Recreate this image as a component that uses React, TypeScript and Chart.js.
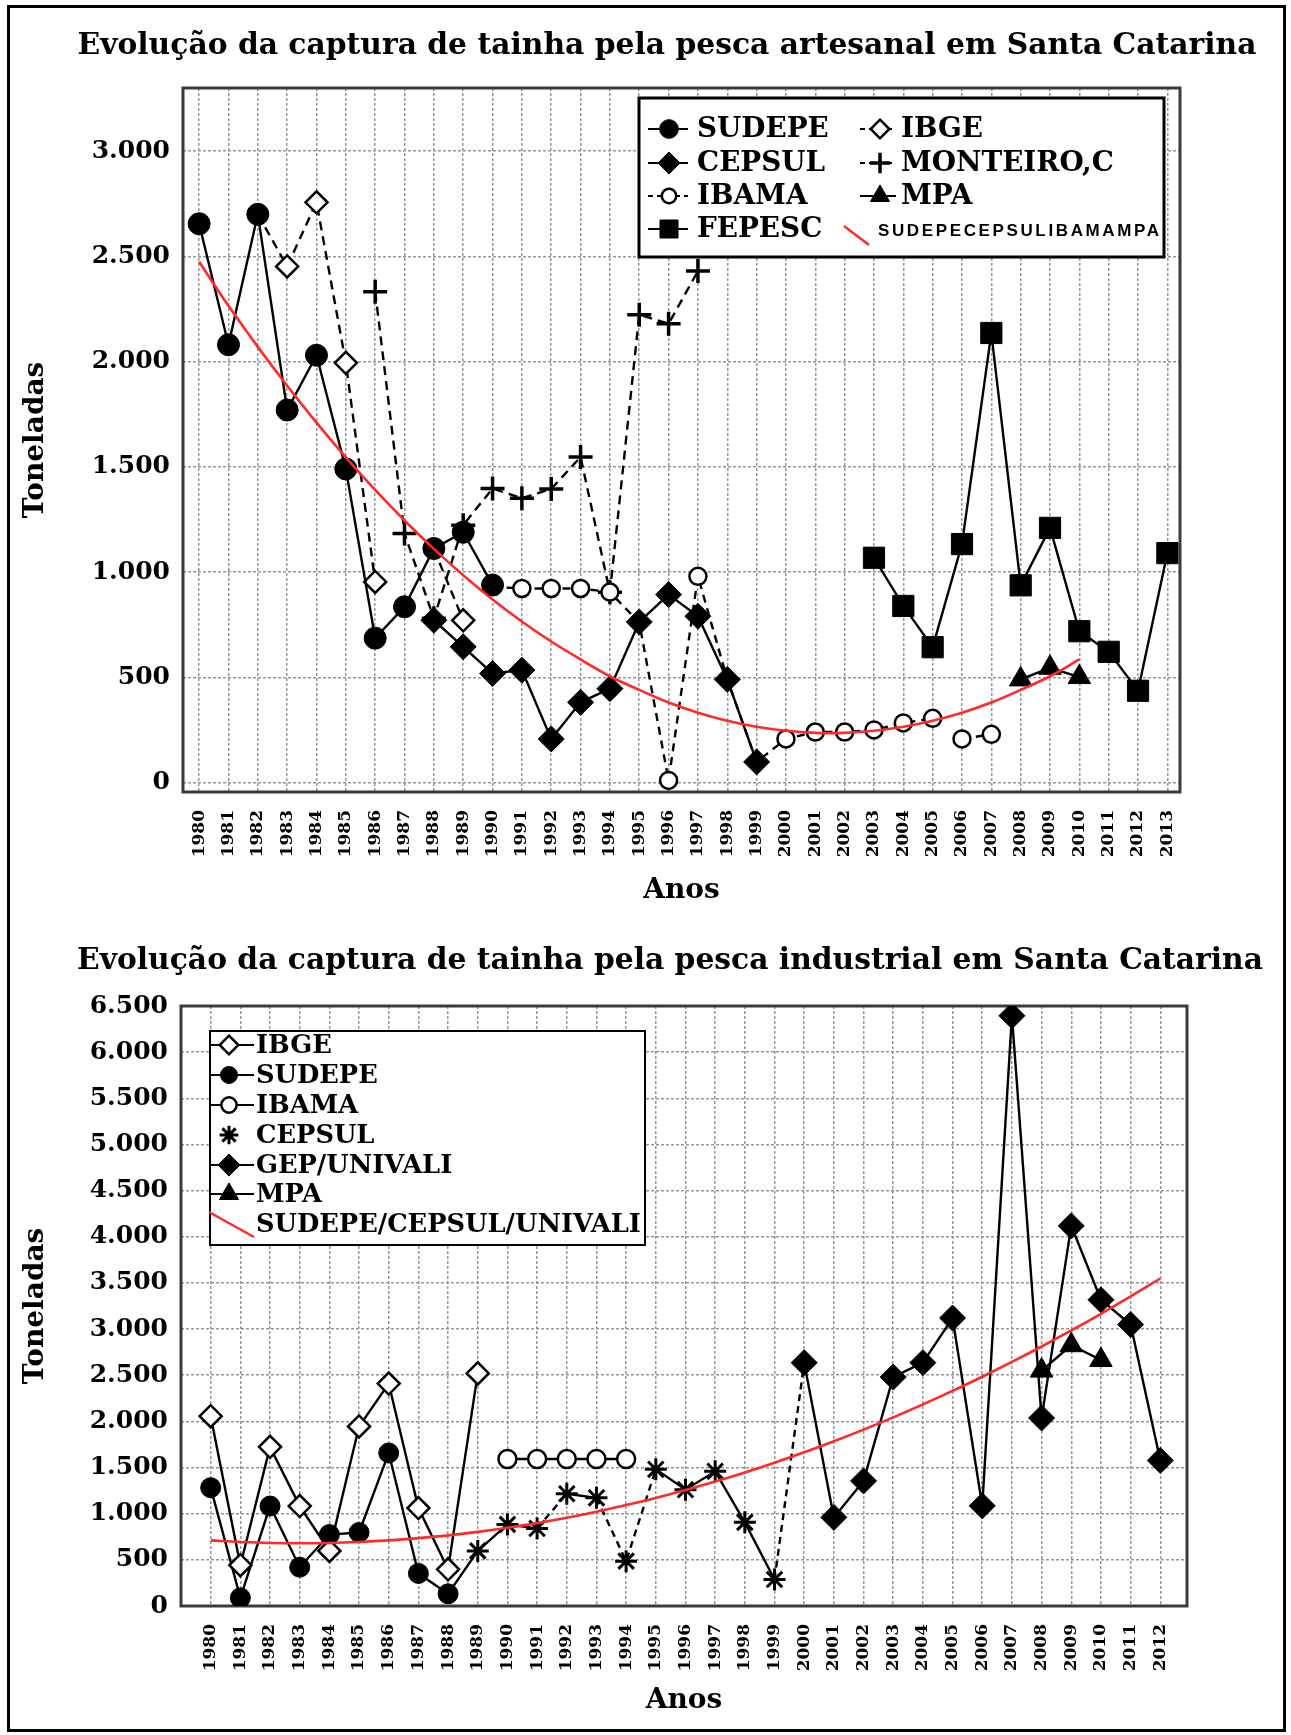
import React, { useEffect, useRef } from 'react';
import { Chart, registerables } from 'chart.js';

Chart.register(...registerables);

const SERIF = '"DejaVu Serif", "Liberation Serif", serif';
const SANS = '"Liberation Sans", Arial, sans-serif';
const GRID = '#969696';
const RED = '#ff2a2a';

// ---------------- Top chart: pesca artesanal ----------------
const topTitle = 'Evolução da captura de tainha pela pesca artesanal em Santa Catarina';
const topYearTicks = [1980, 1981, 1982, 1983, 1984, 1985, 1986, 1987, 1988, 1989, 1990, 1991, 1992, 1993, 1994, 1995, 1996, 1997, 1998, 1999, 2000, 2001, 2002, 2003, 2004, 2005, 2006, 2007, 2008, 2009, 2010, 2011, 2012, 2013];
const topYTicks = [0, 500, 1000, 1500, 2000, 2500, 3000];
const topYTickLabels = ['0', '500', '1.000', '1.500', '2.000', '2.500', '3.000'];

const topSudepeStart = 1980;
const topSudepe = [2655, 2080, 2700, 1770, 2030, 1490, 686, 835, 1112, 1189, 938];
const topCepsulStart = 1988;
const topCepsul = [771, 645, 518, 534, 207, 381, 446, 763, 893, 790, 490, 98];
const topIbgeStart = 1982;
const topIbge = [2700, 2452, 2757, 1994, 953, null, 1110, 771];
const topIbamaStart = 1990;
const topIbama = [930, 922, 922, 922, 905, 760, 10, 980, 490, 98, 207, 240, 240, 250, 283, 305, 207, 229];
const topMonteiroStart = 1986;
const topMonteiro = [2332, 1183, 780, 1223, 1397, 1351, 1395, 1547, 904, 2223, 2180, 2430];
const topFepescStart = 2003;
const topFepesc = [1068, 839, 643, 1133, 2136, 937, 1210, 719, 621, 436, 1090];
const topMpaStart = 2008;
const topMpa = [490, 545, 501];
const topTrendStart = 1980;
const topTrend = [2474, 2265, 2070, 1885, 1710, 1545, 1390, 1245, 1110, 985, 870, 765, 670, 585, 505, 440, 380, 332, 294, 265, 246, 236, 236, 246, 265, 294, 332, 380, 440, 505, 585];

// ---------------- Bottom chart: pesca industrial ----------------
const bottomTitle = 'Evolução da captura de tainha pela pesca industrial em Santa Catarina';
const bottomYearTicks = [1980, 1981, 1982, 1983, 1984, 1985, 1986, 1987, 1988, 1989, 1990, 1991, 1992, 1993, 1994, 1995, 1996, 1997, 1998, 1999, 2000, 2001, 2002, 2003, 2004, 2005, 2006, 2007, 2008, 2009, 2010, 2011, 2012];
const bottomYTicks = [0, 500, 1000, 1500, 2000, 2500, 3000, 3500, 4000, 4500, 5000, 5500, 6000, 6500];
const bottomYTickLabels = ['0', '500', '1.000', '1.500', '2.000', '2.500', '3.000', '3.500', '4.000', '4.500', '5.000', '5.500', '6.000', '6.500'];

const botIbgeStart = 1980;
const botIbge = [2056, 442, 1724, 1083, 597, 1945, 2410, 1061, 398, 2520];
const botSudepeStart = 1980;
const botSudepe = [1282, 88, 1083, 420, 774, 796, 1658, 353, 132, 597];
const botIbamaStart = 1990;
const botIbama = [1592, 1592, 1592, 1592, 1592];
const botCepsulStart = 1989;
const botCepsul = [597, 884, 840, 1216, 1172, 486, 1481, 1260, 1459, 906, 287, 2631];
const botGepStart = 2000;
const botGep = [2636, 960, 1355, 2480, 2636, 3120, 1085, 6395, 2036, 4118, 3318, 3050, 1577];
const botMpaStart = 2008;
const botMpa = [2550, 2825, 2665];
const botTrendStart = 1980;
const botTrend = [711, 694, 683, 680, 683, 694, 711, 735, 765, 803, 847, 898, 956, 1021, 1093, 1171, 1256, 1348, 1447, 1553, 1665, 1785, 1911, 2044, 2184, 2330, 2484, 2644, 2811, 2985, 3166, 3354, 3548];

const series = (start: number, vals: (number | null)[]) => vals.map((v, i) => ({ x: start + i, y: v }));

function drawMarker(ctx: CanvasRenderingContext2D, style: string, x: number, y: number, r: number, fill: string, lw: number) {
  ctx.save();
  ctx.setLineDash([]);
  ctx.lineWidth = lw;
  ctx.strokeStyle = '#000';
  ctx.fillStyle = fill;
  ctx.beginPath();
  if (style === 'circle') {
    ctx.arc(x, y, r, 0, Math.PI * 2);
    ctx.fill(); ctx.stroke();
  } else if (style === 'rectRot') {
    ctx.moveTo(x, y - r); ctx.lineTo(x + r, y); ctx.lineTo(x, y + r); ctx.lineTo(x - r, y); ctx.closePath();
    ctx.fill(); ctx.stroke();
  } else if (style === 'rect') {
    const s = r * Math.SQRT1_2;
    ctx.rect(x - s, y - s, 2 * s, 2 * s);
    ctx.fill(); ctx.stroke();
  } else if (style === 'triangle') {
    let a = 0;
    ctx.moveTo(x + Math.sin(a) * r, y - Math.cos(a) * r);
    a += (2 * Math.PI) / 3;
    ctx.lineTo(x + Math.sin(a) * r, y - Math.cos(a) * r);
    a += (2 * Math.PI) / 3;
    ctx.lineTo(x + Math.sin(a) * r, y - Math.cos(a) * r);
    ctx.closePath();
    ctx.fill(); ctx.stroke();
  } else if (style === 'cross') {
    ctx.moveTo(x - r, y); ctx.lineTo(x + r, y); ctx.moveTo(x, y - r); ctx.lineTo(x, y + r);
    ctx.stroke();
  } else if (style === 'star') {
    ctx.moveTo(x - r, y); ctx.lineTo(x + r, y); ctx.moveTo(x, y - r); ctx.lineTo(x, y + r);
    const d = r * Math.SQRT1_2;
    ctx.moveTo(x - d, y - d); ctx.lineTo(x + d, y + d); ctx.moveTo(x - d, y + d); ctx.lineTo(x + d, y - d);
    ctx.stroke();
  }
  ctx.restore();
}

function fitSize(ctx: CanvasRenderingContext2D, text: string, family: string, targetW: number) {
  ctx.font = `bold 100px ${family}`;
  const w = ctx.measureText(text).width;
  return (100 * targetW) / w;
}

const decoPlugin = {
  id: 'deco',
  beforeDatasetsDraw(chart: any) {
    const { ctx, chartArea: a } = chart;
    ctx.save();
    ctx.strokeStyle = '#3a3a3a';
    ctx.lineWidth = 3;
    ctx.strokeRect(a.left, a.top, a.right - a.left, a.bottom - a.top);
    ctx.restore();
  },
  afterDraw(chart: any, _args: any, opts: any) {
    const ctx: CanvasRenderingContext2D = chart.ctx;
    ctx.save();
    // title
    ctx.fillStyle = '#000';
    ctx.textAlign = 'center';
    ctx.textBaseline = 'middle';
    const ts = fitSize(ctx, opts.title, SERIF, opts.titleW);
    ctx.font = `bold ${ts}px ${SERIF}`;
    ctx.fillText(opts.title, opts.titleCX, opts.titleCY);

    // legend
    const L = opts.legend;
    const [bx1, by1, bx2, by2] = L.box;
    ctx.fillStyle = '#fff';
    ctx.fillRect(bx1, by1, bx2 - bx1, by2 - by1);
    ctx.strokeStyle = '#000';
    ctx.lineWidth = L.boxLw;
    ctx.strokeRect(bx1, by1, bx2 - bx1, by2 - by1);
    const fs = fitSize(ctx, L.fitText, SERIF, L.fitW);
    for (const it of L.items) {
      const ds = chart.data.datasets.find((d: any) => d.label === it.label);
      if (!ds) continue;
      if (it.trend) {
        ctx.beginPath();
        ctx.setLineDash([]);
        ctx.strokeStyle = RED;
        ctx.lineWidth = 2.5;
        ctx.moveTo(it.red[0], it.red[1]);
        ctx.lineTo(it.red[2], it.red[3]);
        ctx.stroke();
        ctx.fillStyle = '#000';
        ctx.textAlign = 'left';
        ctx.textBaseline = 'middle';
        if (it.small) {
          ctx.font = `bold ${it.small}px ${SANS}`;
          const w = ctx.measureText(it.label).width;
          const sp = Math.max(0, (it.smallW - w) / (it.label.length - 1));
          (ctx as any).letterSpacing = `${sp}px`;
          ctx.fillText(it.label, it.tx, it.my);
          (ctx as any).letterSpacing = '0px';
        } else {
          ctx.font = `bold ${fs}px ${SERIF}`;
          ctx.fillText(it.label, it.tx, it.my);
        }
        continue;
      }
      ctx.beginPath();
      ctx.setLineDash(L.lineDash && ds.borderDash && ds.borderDash.length ? L.lineDash : []);
      ctx.strokeStyle = '#000';
      ctx.lineWidth = 2.2;
      ctx.moveTo(it.lx1, it.my);
      ctx.lineTo(it.lx2, it.my);
      ctx.stroke();
      ctx.setLineDash([]);
      drawMarker(ctx, ds.mk.style, it.mx, it.my, ds.mk.r * L.markerScale, ds.mk.fill, ds.mk.lw);
      ctx.fillStyle = '#000';
      ctx.textAlign = 'left';
      ctx.textBaseline = 'middle';
      ctx.font = `bold ${fs}px ${SERIF}`;
      ctx.fillText(it.label, it.tx, it.my + 1);
    }
    ctx.restore();
  },
};

function lineDs(label: string, data: any[], mk: any, opts: any = {}) {
  const hidden: number[] = opts.hidden || [];
  return {
    label,
    data,
    mk,
    borderColor: '#000',
    borderWidth: opts.width || 2.4,
    borderDash: opts.dash || [],
    pointStyle: mk.style,
    pointRadius: (c: any) => (c.raw && hidden.includes(c.raw.x) ? 0 : mk.r),
    pointHoverRadius: (c: any) => (c.raw && hidden.includes(c.raw.x) ? 0 : mk.r),
    pointBackgroundColor: mk.fill,
    pointBorderColor: '#000',
    pointBorderWidth: mk.lw,
    tension: 0,
    spanGaps: false,
    fill: false,
    segment: opts.segment,
  };
}

function trendDs(label: string, data: any[]) {
  return {
    label,
    data,
    mk: null,
    borderColor: RED,
    borderWidth: 2.6,
    pointRadius: 0,
    pointHoverRadius: 0,
    tension: 0.35,
    fill: false,
  };
}

const tickFont = (size: number) => ({ family: SERIF, size, weight: 'bold' as const });

function makeScales(cfg: any) {
  return {
    x: {
      type: 'linear',
      bounds: 'data',
      min: cfg.xMin,
      max: cfg.xMax,
      afterBuildTicks: (s: any) => {
        s.ticks = cfg.xTicks.map((v: number) => ({ value: v }));
      },
      afterFit: (s: any) => {
        s.height = cfg.xHeight;
      },
      ticks: {
        autoSkip: false,
        minRotation: 90,
        maxRotation: 90,
        padding: cfg.xPad,
        color: '#000',
        font: tickFont(17),
        callback: (v: number) => String(v),
      },
      grid: { color: GRID, lineWidth: 1.5, drawTicks: false },
      border: { display: false, dash: [3, 2] },
      title: {
        display: true,
        text: 'Anos',
        color: '#000',
        font: { family: SERIF, size: 28, weight: 'bold' },
        padding: { top: 0, bottom: cfg.xTitlePad },
      },
    },
    y: {
      type: 'linear',
      bounds: 'data',
      min: cfg.yMin,
      max: cfg.yMax,
      afterBuildTicks: (s: any) => {
        s.ticks = cfg.yTicks.map((v: number) => ({ value: v }));
      },
      afterFit: (s: any) => {
        s.width = cfg.yWidth;
      },
      ticks: {
        padding: 13,
        color: '#000',
        font: tickFont(25),
        callback: (_v: number, i: number) => cfg.yLabels[i],
      },
      grid: { color: GRID, lineWidth: 1.5, drawTicks: false },
      border: { display: false, dash: [3, 2] },
      title: {
        display: true,
        text: 'Toneladas',
        color: '#000',
        font: { family: SERIF, size: 28, weight: 'bold' },
        padding: 0,
      },
    },
  };
}

function buildTopConfig(): any {
  const datasets = [
    trendDs('SUDEPECEPSULIBAMAMPA', series(topTrendStart, topTrend)),
    lineDs('SUDEPE', series(topSudepeStart, topSudepe), { style: 'circle', r: 11, fill: '#000', lw: 1 }),
    lineDs('CEPSUL', series(topCepsulStart, topCepsul), { style: 'rectRot', r: 13, fill: '#000', lw: 1 }),
    lineDs('FEPESC', series(topFepescStart, topFepesc), { style: 'rect', r: 15, fill: '#000', lw: 1 }),
    lineDs('MPA', series(topMpaStart, topMpa), { style: 'triangle', r: 13, fill: '#000', lw: 1 }),
    lineDs('IBGE', series(topIbgeStart, topIbge), { style: 'rectRot', r: 11, fill: '#fff', lw: 2.5 }, { dash: [9, 6], hidden: [1982, 1988] }),
    lineDs('IBAMA', series(topIbamaStart, topIbama), { style: 'circle', r: 8.5, fill: '#fff', lw: 2.5 }, {
      dash: [8, 6],
      hidden: [1990, 1995, 1998, 1999],
      segment: { borderColor: (c: any) => (c.p0.parsed.x === 2005 ? 'rgba(0,0,0,0)' : undefined) },
    }),
    lineDs('MONTEIRO,C', series(topMonteiroStart, topMonteiro), { style: 'cross', r: 12, fill: '#000', lw: 3.5 }, { dash: [9, 6] }),
  ];
  return {
    type: 'line',
    data: { datasets },
    plugins: [decoPlugin],
    options: {
      animation: false,
      responsive: false,
      devicePixelRatio: 1,
      events: [],
      layout: { padding: { left: 19, right: 111, top: 88, bottom: 0 } },
      scales: makeScales({
        xMin: 1979.45, xMax: 2013.43, xTicks: topYearTicks, xHeight: 138, xPad: 18, xTitlePad: 22,
        yMin: -45, yMax: 3300, yTicks: topYTicks, yLabels: topYTickLabels, yWidth: 164,
      }),
      plugins: {
        legend: { display: false },
        tooltip: { enabled: false },
        deco: {
          title: topTitle, titleCX: 667, titleCY: 46, titleW: 1180,
          legend: {
            box: [639, 98, 1164, 257], boxLw: 3, markerScale: 0.85, lineDash: [5, 4],
            fitText: 'MONTEIRO,C', fitW: 213,
            items: [
              { label: 'SUDEPE', mx: 669, my: 129, lx1: 648, lx2: 688, tx: 697 },
              { label: 'CEPSUL', mx: 669, my: 163, lx1: 648, lx2: 688, tx: 697 },
              { label: 'IBAMA', mx: 669, my: 196, lx1: 648, lx2: 688, tx: 697 },
              { label: 'FEPESC', mx: 669, my: 229, lx1: 648, lx2: 688, tx: 697 },
              { label: 'IBGE', mx: 880, my: 129, lx1: 860, lx2: 896, tx: 901 },
              { label: 'MONTEIRO,C', mx: 880, my: 163, lx1: 860, lx2: 896, tx: 901 },
              { label: 'MPA', mx: 880, my: 196, lx1: 860, lx2: 896, tx: 901 },
              { label: 'SUDEPECEPSULIBAMAMPA', trend: true, red: [844, 226, 869, 245], tx: 878, my: 231, small: 17, smallW: 281 },
            ],
          },
        },
      },
    },
  };
}

function buildBottomConfig(): any {
  const datasets = [
    trendDs('SUDEPE/CEPSUL/UNIVALI', series(botTrendStart, botTrend)),
    lineDs('IBGE', series(botIbgeStart, botIbge), { style: 'rectRot', r: 11, fill: '#fff', lw: 2.5 }),
    lineDs('SUDEPE', series(botSudepeStart, botSudepe), { style: 'circle', r: 10, fill: '#000', lw: 1 }, { hidden: [1989] }),
    lineDs('IBAMA', series(botIbamaStart, botIbama), { style: 'circle', r: 9, fill: '#fff', lw: 2.5 }, { dash: [] }),
    lineDs('CEPSUL', series(botCepsulStart, botCepsul), { style: 'star', r: 11, fill: '#000', lw: 3 }, {
      hidden: [2000],
      segment: { borderDash: (c: any) => ([1991, 1993, 1994, 1999].includes(c.p0.parsed.x) ? [7, 5] : undefined) },
    }),
    lineDs('GEP/UNIVALI', series(botGepStart, botGep), { style: 'rectRot', r: 13, fill: '#000', lw: 1 }),
    lineDs('MPA', series(botMpaStart, botMpa), { style: 'triangle', r: 13, fill: '#000', lw: 1 }),
  ];
  return {
    type: 'line',
    data: { datasets },
    plugins: [decoPlugin],
    options: {
      animation: false,
      responsive: false,
      devicePixelRatio: 1,
      events: [],
      layout: { padding: { left: 19, right: 104, top: 76, bottom: 0 } },
      scales: makeScales({
        xMin: 1979, xMax: 2012.9, xTicks: bottomYearTicks, xHeight: 129, xPad: 18, xTitlePad: 17,
        yMin: 0, yMax: 6500, yTicks: bottomYTicks, yLabels: bottomYTickLabels, yWidth: 162,
      }),
      plugins: {
        legend: { display: false },
        tooltip: { enabled: false },
        deco: {
          title: bottomTitle, titleCX: 670, titleCY: 31, titleW: 1186,
          legend: {
            box: [210, 101, 645, 315], boxLw: 2, markerScale: 0.85, lineDash: [4, 3],
            fitText: 'SUDEPE/CEPSUL/UNIVALI', fitW: 385,
            items: [
              { label: 'IBGE', mx: 229, my: 115, lx1: 209, lx2: 254, tx: 256 },
              { label: 'SUDEPE', mx: 229, my: 145, lx1: 209, lx2: 254, tx: 256 },
              { label: 'IBAMA', mx: 229, my: 175, lx1: 209, lx2: 254, tx: 256 },
              { label: 'CEPSUL', mx: 229, my: 205, lx1: 209, lx2: 209, tx: 256 },
              { label: 'GEP/UNIVALI', mx: 229, my: 235, lx1: 209, lx2: 254, tx: 256 },
              { label: 'MPA', mx: 229, my: 264, lx1: 209, lx2: 254, tx: 256 },
              { label: 'SUDEPE/CEPSUL/UNIVALI', trend: true, red: [209, 282, 254, 307], tx: 256, my: 295 },
            ],
          },
        },
      },
    },
  };
}

export default function App() {
  const topRef = useRef<HTMLCanvasElement>(null);
  const botRef = useRef<HTMLCanvasElement>(null);

  useEffect(() => {
    const c1 = new Chart(topRef.current as HTMLCanvasElement, buildTopConfig());
    const c2 = new Chart(botRef.current as HTMLCanvasElement, buildBottomConfig());
    return () => {
      c1.destroy();
      c2.destroy();
    };
  }, []);

  return (
    <div style={{ position: 'absolute', left: 0, top: 0, width: 1291, height: 1735, background: '#fff', overflow: 'hidden' }}>
      <div style={{ position: 'absolute', left: 7, top: 5, width: 1279, height: 1727, border: '3px solid #000', boxSizing: 'border-box' }} />
      <canvas ref={topRef} width={1291} height={930} style={{ position: 'absolute', left: 0, top: 0, width: 1291, height: 930 }} />
      <canvas ref={botRef} width={1291} height={805} style={{ position: 'absolute', left: 0, top: 930, width: 1291, height: 805 }} />
    </div>
  );
}
